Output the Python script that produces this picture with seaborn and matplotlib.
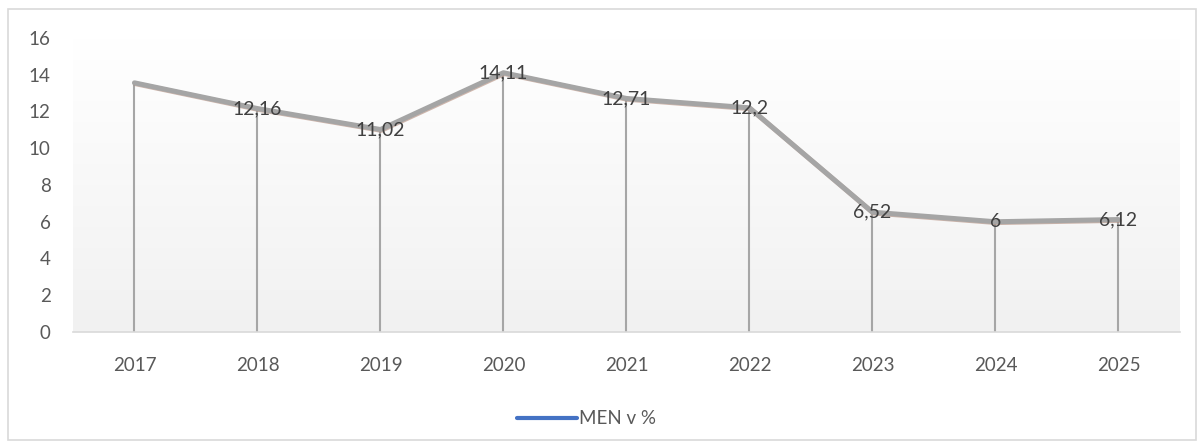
import numpy as np
import pandas as pd
import matplotlib
matplotlib.use("Agg")
import matplotlib.pyplot as plt
import matplotlib.patheffects as pe
from matplotlib.lines import Line2D
from matplotlib.patches import Rectangle
import seaborn as sns

# data
years = ["2017", "2018", "2019", "2020", "2021", "2022", "2023", "2024", "2025"]
men_pct = [13.56, 12.16, 11.02, 14.11, 12.71, 12.2, 6.52, 6.0, 6.12]
# 2017 has no data label in the original
point_labels = ["", "12,16", "11,02", "14,11", "12,71", "12,2", "6,52", "6", "6,12"]
y_ticks = [0, 2, 4, 6, 8, 10, 12, 14, 16]

df = pd.DataFrame({"year": years, "value": men_pct})
df["pos"] = range(len(df))

sns.set_style("white")
plt.rcParams["font.family"] = ["Lato", "DejaVu Sans"]

fig = plt.figure(figsize=(12.04, 4.47), dpi=100)
ax = fig.add_axes([0.0606, 0.2573, 0.9194, 0.6577])

# light border around the whole chart
fig.patches.append(Rectangle((0.007, 0.015), 0.986, 0.965, transform=fig.transFigure,
                             fill=False, edgecolor="#d9d9d9", linewidth=1.2))

# gradient background of the plot area (white at top, light grey at bottom)
grad = np.linspace(0.0, 1.0, 256).reshape(-1, 1)
cmap = matplotlib.colors.LinearSegmentedColormap.from_list("bg", ["#f1f1f1", "#ffffff"])
ax.imshow(grad, extent=[-0.5, len(years) - 0.5, 0, 16], aspect="auto",
          cmap=cmap, origin="lower", zorder=0)

# drop lines
ax.vlines(df["pos"], 0, df["value"], color="#a6a6a6", linewidth=1.5, zorder=1)

sns.lineplot(data=df, x="pos", y="value", ax=ax, color="#a5a5a5", linewidth=3.6,
             zorder=3, legend=False,
             path_effects=[pe.SimpleLineShadow(offset=(0.6, -0.6), shadow_color="#b08878", alpha=0.6),
                           pe.Normal()])

for x, y, lab in zip(df["pos"], df["value"], point_labels):
    if lab:
        ax.text(x, y, lab, ha="center", va="center", fontsize=14, color="#404040", zorder=4)

ax.set_xlim(-0.5, len(years) - 0.5)
ax.set_ylim(0, 16)
ax.set_xticks(df["pos"])
ax.set_xticklabels(years)
ax.set_yticks(y_ticks)
ax.tick_params(axis="both", length=0, labelsize=13.5, colors="#595959")
ax.tick_params(axis="x", pad=18)
ax.tick_params(axis="y", pad=16)
ax.set_xlabel("")
ax.set_ylabel("")
for side in ["top", "right", "left"]:
    ax.spines[side].set_visible(False)
ax.spines["bottom"].set_color("#d9d9d9")
ax.spines["bottom"].set_linewidth(1.2)
ax.spines["bottom"].set_zorder(2)

handle = Line2D([0], [0], color="#4472c4", linewidth=3)
fig.legend([handle], ["MEN v %"], loc="center", bbox_to_anchor=(0.487, 0.063),
           frameon=False, fontsize=13.5, handlelength=3.2, handletextpad=0.1,
           labelcolor="#595959")

fig.savefig("out.png", dpi=100)
